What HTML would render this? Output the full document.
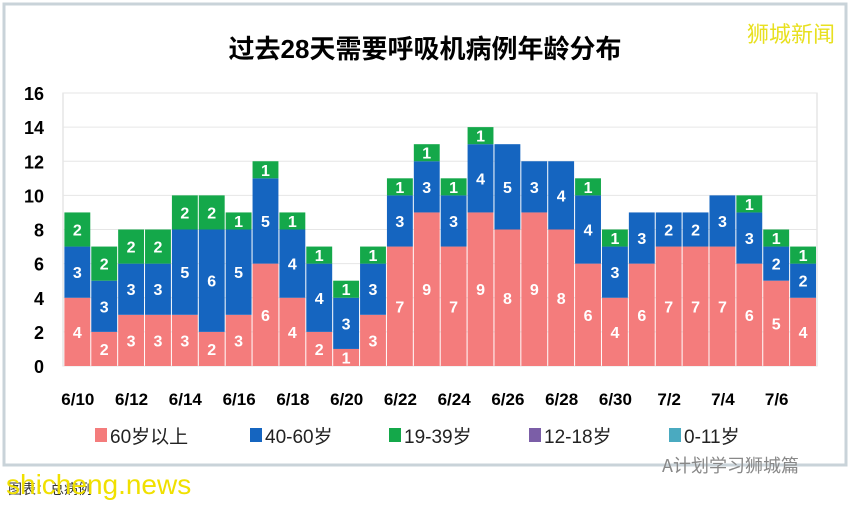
<!DOCTYPE html>
<html><head><meta charset="utf-8"><style>
body{margin:0;width:850px;height:502px;background:#fff;overflow:hidden;font-family:"Liberation Sans","Noto Sans CJK SC",sans-serif;}
</style></head><body>
<svg width="850" height="502">
<rect x="4" y="4" width="842" height="461" fill="#fff" stroke="#c9d3d9" stroke-width="3"/>
<text x="425" y="58" text-anchor="middle" font-size="26" font-weight="bold" font-family="'Liberation Sans','Noto Sans CJK SC',sans-serif">过去28天需要呼吸机病例年龄分布</text>
<text x="835" y="42" text-anchor="end" font-size="22" fill="#e8e020" font-family="'Noto Sans CJK SC',sans-serif">狮城新闻</text>
<g id="grid"></g><g id="bars"></g><g id="axes"></g>
<g id="legend"></g>
<text x="662" y="472" font-size="18" fill="#888" font-family="'Noto Sans CJK SC',sans-serif">A计划学习狮城篇</text>
<text x="8" y="494" font-size="14" fill="#333" font-family="'Noto Sans CJK SC',sans-serif">图表：总病例</text>
<text x="6" y="494" font-size="28" fill="#f0e000">shicheng.news</text>
</svg>
<script>
const categories=["6/10","6/11","6/12","6/13","6/14","6/15","6/16","6/17","6/18","6/19","6/20","6/21","6/22","6/23","6/24","6/25","6/26","6/27","6/28","6/29","6/30","7/1","7/2","7/3","7/4","7/5","7/6","7/7"];
const age60=[4,2,3,3,3,2,3,6,4,2,1,3,7,9,7,9,8,9,8,6,4,6,7,7,7,6,5,4];
const age40=[3,3,3,3,5,6,5,5,4,4,3,3,3,3,3,4,5,3,4,4,3,3,2,2,3,3,2,2];
const age19=[2,2,2,2,2,2,1,1,1,1,1,1,1,1,1,1,0,0,0,1,1,0,0,0,0,1,1,1];
const yTicks=[0,2,4,6,8,10,12,14,16];
const seriesNames=["60岁以上","40-60岁","19-39岁","12-18岁","0-11岁"];
const seriesColors=["#f47c7c","#1565c0","#14a84a","#7b5ea7","#4aaac0"];
const NS="http://www.w3.org/2000/svg";
const L=64.4,R=817,T=93,B=366,slot=(R-L)/28;
const y=v=>B-(B-T)*v/16, x=i=>L+i*slot;
function mk(p,tag,a,txt){const e=document.createElementNS(NS,tag);for(const k in a)e.setAttribute(k,a[k]);if(txt!=null)e.textContent=txt;document.getElementById(p).appendChild(e);return e;}
const pf=mk("grid","rect",{x:63,y:T,width:R-63,height:B-T,fill:"none",stroke:"#d9d9d9"});


yTicks.forEach(t=>{
 const g=mk("grid","line",{x1:63,x2:R,y1:y(t),y2:y(t),stroke:"#e6e6e6"});
 
 
 const l=mk("axes","text",{x:44,y:y(t)+7,"text-anchor":"end","font-size":18,"font-weight":"bold"},t);
 
 
});
const series=[age60,age40,age19];
categories.forEach((c,i)=>{
 let base=0;
 series.forEach((s,k)=>{
  const v=s[i]; if(!v) return;
  const r=mk("bars","rect",{x:x(i),y:y(base+v),width:slot-1,height:y(base)-y(base+v),fill:seriesColors[k]});
  
  
  const t=mk("bars","text",{x:x(i)+slot/2-0.5,y:(y(base)+y(base+v))/2+6,"text-anchor":"middle","font-size":16,"font-weight":"bold",fill:"#fff"},v);
  
  
  base+=v;
 });
 if(i%2===0){
  const l=mk("axes","text",{x:x(i)+slot/2,y:405,"text-anchor":"middle","font-size":17,"font-weight":"bold"},c);
  
  
 }
});
const lx=[95,250,389,529,669];
seriesNames.forEach((n,k)=>{
 const r=mk("legend","rect",{x:lx[k],y:428,width:12,height:14,fill:seriesColors[k]});
 
 
 const t=mk("legend","text",{x:lx[k]+15,y:443,"font-size":19,fill:"#222"},n);
 
 
});
</script>
</body></html>
